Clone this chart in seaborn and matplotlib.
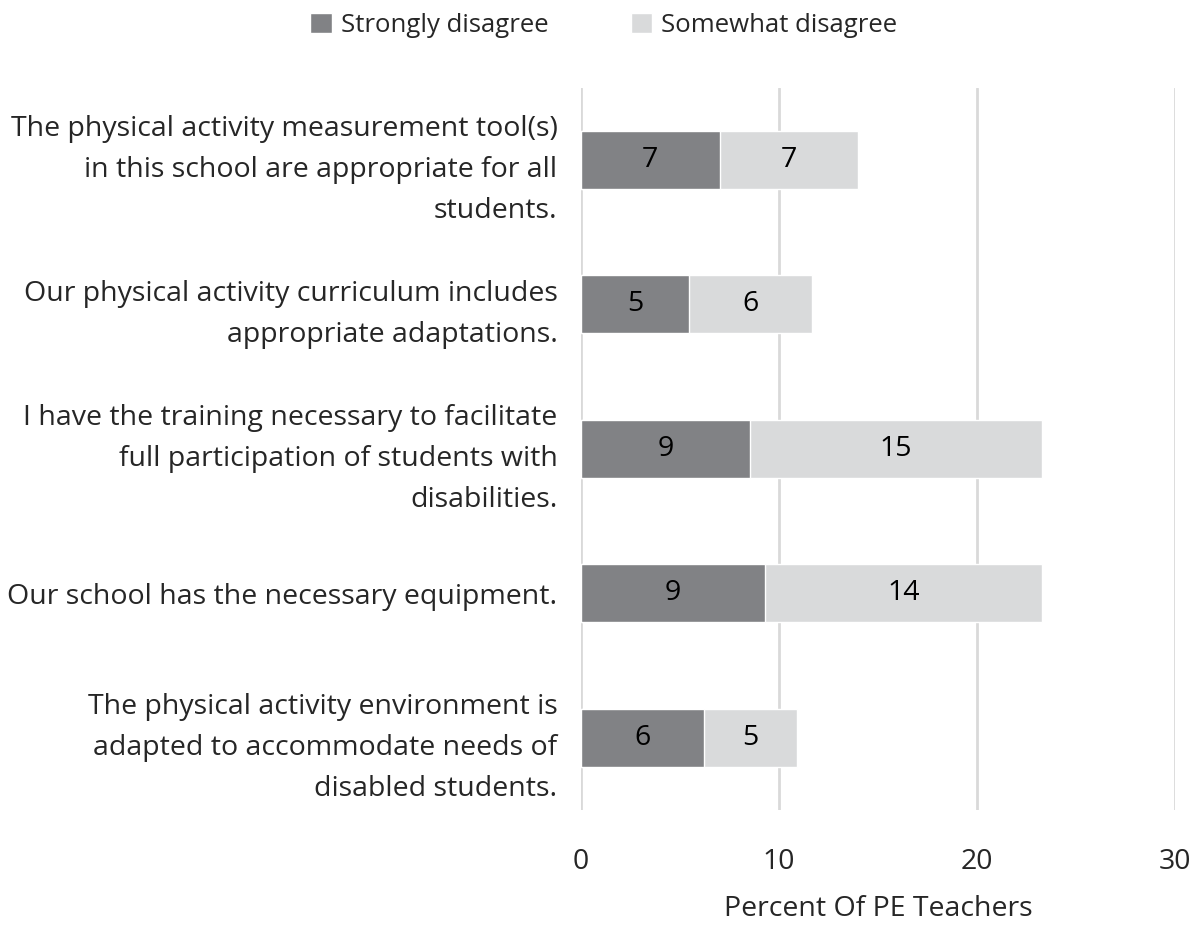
import matplotlib
matplotlib.use("Agg")
import matplotlib.pyplot as plt
import seaborn as sns
import pandas as pd
from matplotlib.patches import Patch

categories = [
    "The physical activity measurement tool(s)\nin this school are appropriate for all\nstudents.",
    "Our physical activity curriculum includes\nappropriate adaptations.",
    "I have the training necessary to facilitate\nfull participation of students with\ndisabilities.",
    "Our school has the necessary equipment.",
    "The physical activity environment is\nadapted to accommodate needs of\ndisabled students.",
]
strongly = [7.0, 5.45, 8.54, 9.29, 6.21]
somewhat = [7.0, 6.22, 14.74, 13.99, 4.70]
x_ticks = [0, 10, 20, 30]

dark = "#818285"
light = "#d9dadb"

sns.set_theme(style="white")
plt.rcParams["font.family"] = ["Open Sans", "DejaVu Sans"]

df = pd.DataFrame({"cat": categories, "strong": strongly, "some": somewhat})
df["total"] = df["strong"] + df["some"]

fig = plt.figure(figsize=(11.98, 9.25), dpi=100)
ax = fig.add_axes([0.485, 0.1243, 0.496, 0.781])

sns.barplot(data=df, y="cat", x="total", color=light, orient="h", width=0.4,
            saturation=1, ax=ax, zorder=3)
sns.barplot(data=df, y="cat", x="strong", color=dark, orient="h", width=0.4,
            saturation=1, ax=ax, zorder=4)

fs = 20.5
for i, (s, w) in enumerate(zip(strongly, somewhat)):
    ax.text(s / 2, i, f"{round(s):d}", ha="center", va="center", fontsize=fs,
            color="black", zorder=5)
    ax.text(s + w / 2, i, f"{round(w):d}", ha="center", va="center", fontsize=fs,
            color="black", zorder=5)

ax.set_xlim(0, 30)
ax.set_ylim(4.5, -0.5)
ax.set_xticks(x_ticks)
ax.set_xticklabels([str(t) for t in x_ticks], fontsize=fs)
ax.tick_params(axis="x", length=0, pad=27)
ax.tick_params(axis="y", length=0, pad=17, labelsize=fs)
for lbl in ax.get_yticklabels():
    lbl.set_horizontalalignment("right")
    lbl.set_multialignment("right")
    lbl.set_linespacing(1.62)
ax.xaxis.grid(True, color="#d9d9d9", linewidth=2, zorder=0)
ax.yaxis.grid(False)
for sp in ax.spines.values():
    sp.set_visible(False)
ax.set_ylabel("")
ax.set_xlabel("Percent Of PE Teachers", fontsize=fs, labelpad=14)

handles = [Patch(facecolor=dark, label="Strongly disagree"),
           Patch(facecolor=light, label="Somewhat disagree")]
fig.legend(handles=handles, loc="upper center", bbox_to_anchor=(0.504, 1.011),
           ncol=2, frameon=False, fontsize=18.5, handlelength=0.85, handleheight=0.85,
           handletextpad=0.35, columnspacing=3.2)

fig.savefig("out.png", dpi=100)
